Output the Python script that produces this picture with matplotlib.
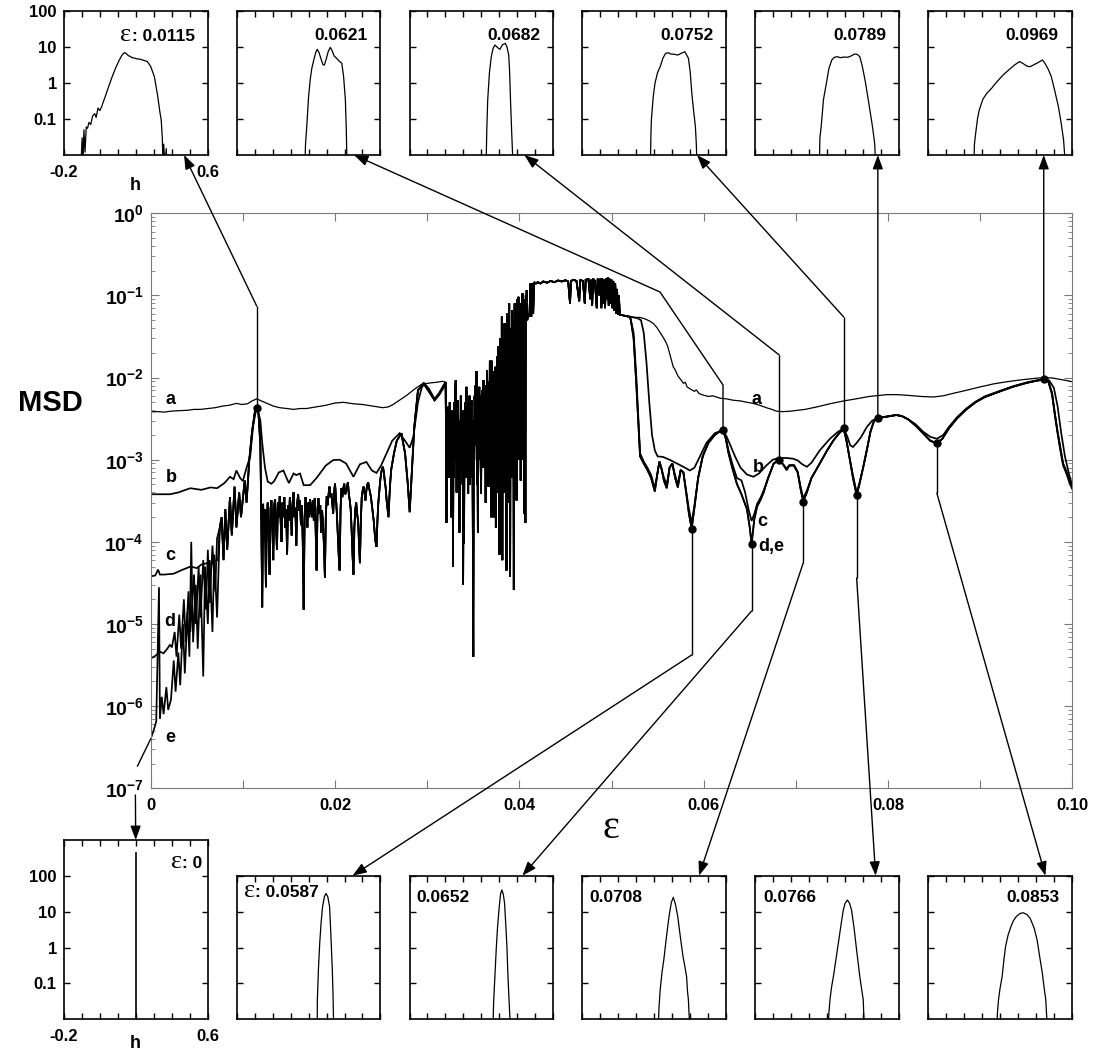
import matplotlib
matplotlib.use("Agg")
import matplotlib.pyplot as plt
import numpy as np
from matplotlib.ticker import (FixedLocator, FixedFormatter, FuncFormatter,
                               LogLocator, NullLocator, NullFormatter)
from matplotlib.offsetbox import AnchoredOffsetbox, HPacker, TextArea

plt.rcParams['font.family'] = ['Liberation Sans', 'DejaVu Sans']
plt.rcParams['font.weight'] = 'bold'
plt.rcParams['mathtext.fontset'] = 'custom'
plt.rcParams['mathtext.rm'] = 'Liberation Sans:bold'
plt.rcParams['mathtext.bf'] = 'Liberation Sans:bold'

# ---------------------------------------------------------------- MSD(eps) data
# (eps, MSD) pieces; the curves share the chaotic window in the middle
a_left = [(0.0, 0.00383), (0.0008, 0.00385), (0.0015, 0.0038), (0.0022, 0.0039), (0.0030, 0.00395),
          (0.0040, 0.004), (0.0047, 0.0041), (0.0054, 0.0041), (0.0062, 0.0042), (0.0070, 0.0043),
          (0.0078, 0.0045), (0.0085, 0.0046), (0.0093, 0.00485), (0.0099, 0.0047), (0.0105, 0.0048),
          (0.0110, 0.0052), (0.0115, 0.0055), (0.0120, 0.0052), (0.0126, 0.00485), (0.0133, 0.0045),
          (0.0140, 0.0043), (0.0148, 0.0042), (0.0155, 0.0041), (0.0162, 0.0042), (0.0169, 0.0042),
          (0.0180, 0.0044), (0.0190, 0.0046), (0.0200, 0.0049), (0.0209, 0.005), (0.0220, 0.0048),
          (0.0230, 0.0047), (0.0241, 0.0045), (0.0252, 0.0043), (0.0258, 0.0044), (0.0263, 0.0047),
          (0.0270, 0.0053), (0.0278, 0.0061), (0.0286, 0.0072), (0.0294, 0.0083), (0.0303, 0.0086),
          (0.0311, 0.0088), (0.0317, 0.009)]

b_left = [(0.0, 0.00038), (0.0021, 0.00038), (0.0030, 0.0004), (0.0043, 0.00045), (0.0055, 0.00043),
          (0.0065, 0.00046), (0.0072, 0.00045), (0.0080, 0.00052), (0.0086, 0.00062), (0.0090, 0.00058),
          (0.0093, 0.00074), (0.0097, 0.0006), (0.0100, 0.00055), (0.0104, 0.0008), (0.0108, 0.0011),
          (0.0111, 0.0025), (0.0114, 0.0039), (0.0116, 0.0041), (0.0119, 0.003), (0.0121, 0.0016),
          (0.0124, 0.0008), (0.0127, 0.00054), (0.0131, 0.00051), (0.0134, 0.00055), (0.0139, 0.0007),
          (0.0144, 0.00074), (0.0148, 0.00058), (0.0150, 0.00052), (0.0155, 0.00068), (0.0158, 0.00065),
          (0.0162, 0.00068), (0.0166, 0.00049), (0.0173, 0.00049), (0.0180, 0.0006), (0.0190, 0.00085),
          (0.0198, 0.00099), (0.0205, 0.001), (0.0212, 0.0009), (0.0220, 0.00062), (0.0227, 0.00088),
          (0.0234, 0.00094), (0.0240, 0.00074), (0.0245, 0.00069), (0.0250, 0.00085), (0.0256, 0.0012),
          (0.0262, 0.0017), (0.0270, 0.0021), (0.0276, 0.0017), (0.0281, 0.0014), (0.0285, 0.0019),
          (0.0290, 0.005), (0.0294, 0.0075), (0.0297, 0.0085), (0.0302, 0.0073), (0.0308, 0.0055),
          (0.0313, 0.0065), (0.0318, 0.0082)]

c_start = [(0.0, 3.8e-5), (0.0005, 3.9e-5), (0.0008, 4.6e-5), (0.0010, 4.0e-5), (0.0015, 4.0e-5),
           (0.0025, 4.1e-5), (0.0035, 4.6e-5), (0.0043, 5.0e-5), (0.0050, 4.8e-5), (0.0055, 5.3e-5),
           (0.0061, 5.5e-5), (0.0066, 5.4e-5), (0.0070, 5.9e-5), (0.0073, 6.0e-5)]

d_start = [(0.0, 3.8e-6), (0.0005, 4.1e-6), (0.0010, 4.6e-6), (0.0014, 4.4e-6), (0.0018, 5.0e-6),
           (0.0021, 5.6e-6), (0.0023, 5.2e-6), (0.0026, 8e-6), (0.0028, 4e-6), (0.0031, 1.3e-5),
           (0.0033, 5e-6), (0.0036, 2e-5), (0.0038, 6e-6), (0.0041, 2.5e-5), (0.0043, 8e-6),
           (0.0047, 4e-5), (0.0049, 1e-5), (0.0052, 5e-5), (0.0054, 1.2e-5), (0.0057, 6e-5),
           (0.0060, 1.5e-5), (0.0062, 8e-5), (0.0064, 1.8e-5), (0.0067, 9e-5), (0.0070, 2.5e-5),
           (0.0072, 1.1e-4)]

e_start = [(0.0, 4.0e-7), (0.0003, 5.0e-7), (0.0006, 6.5e-7), (0.0009, 2.8e-5), (0.0010, 7e-7),
           (0.0012, 1.3e-6), (0.0014, 8e-7), (0.0017, 1.7e-6), (0.0019, 9e-7), (0.0022, 1.2e-6),
           (0.0025, 3.6e-6), (0.0027, 1.5e-6), (0.0030, 4.5e-6), (0.0032, 1.8e-6), (0.0035, 1.0e-5),
           (0.0037, 2.5e-6), (0.0040, 1.4e-5), (0.0042, 4e-6), (0.0044, 1e-4), (0.0046, 6e-6),
           (0.0049, 3e-5), (0.0051, 5e-6), (0.0054, 4e-5), (0.0057, 2.3e-6), (0.0059, 5e-5),
           (0.0062, 1e-5), (0.0064, 6e-5), (0.0067, 8e-6), (0.0069, 7e-5), (0.0072, 1.2e-5)]

cde_mid = [(0.0075, 1.5e-4), (0.0077, 2.0e-4), (0.0079, 6e-5), (0.0081, 2.5e-4), (0.0083, 8e-5),
           (0.0086, 3.5e-4), (0.0088, 1.2e-4), (0.0091, 4.7e-4), (0.0093, 1.5e-4), (0.0096, 4e-4),
           (0.0098, 2e-4), (0.0102, 5.6e-4), (0.0104, 3e-4), (0.0107, 1.0e-3), (0.0110, 2.2e-3),
           (0.0113, 3.8e-3), (0.0115, 4.3e-3), (0.0117, 3.6e-3), (0.0119, 1.5e-3), (0.0120, 2e-4),
           (0.0121, 1.6e-5), (0.0122, 2.9e-4), (0.0123, 1e-4), (0.0124, 2.5e-4), (0.0125, 2.8e-5),
           (0.0126, 2e-4), (0.0127, 3e-4), (0.0128, 1.2e-4), (0.0129, 4e-5), (0.0130, 2.5e-4),
           (0.0131, 3.2e-4), (0.0132, 1.5e-4), (0.0133, 6e-5), (0.0134, 2.8e-4), (0.0135, 3.3e-4),
           (0.0136, 1.5e-4), (0.0137, 8e-5), (0.0138, 3e-4), (0.0139, 2e-4), (0.0140, 3.6e-4),
           (0.0141, 1.8e-4), (0.0142, 1e-4), (0.0143, 3e-4), (0.0144, 2e-4), (0.0145, 3.5e-4),
           (0.0146, 1.5e-4), (0.0147, 2.5e-4), (0.0148, 7e-5), (0.0149, 2.8e-4), (0.0150, 1.8e-4),
           (0.0151, 3.5e-4), (0.0152, 2.2e-4), (0.0153, 1.2e-4), (0.0154, 3e-4), (0.0155, 4e-4),
           (0.0156, 2e-4), (0.0157, 2.6e-4), (0.0158, 9e-5), (0.0159, 3e-4), (0.0160, 3.8e-4),
           (0.0161, 2.4e-4), (0.0162, 3.2e-4), (0.0163, 1.6e-4), (0.0164, 2.8e-4), (0.0165, 1e-4),
           (0.0166, 1.5e-5), (0.0167, 2e-4), (0.0168, 3.5e-4), (0.0169, 2.5e-4), (0.0170, 1.5e-4),
           (0.0171, 3e-4), (0.0172, 2e-4), (0.0173, 3.3e-4), (0.0174, 2.4e-4), (0.0175, 2e-4),
           (0.0176, 3.2e-4), (0.0177, 1.8e-4), (0.0178, 3.4e-4), (0.0179, 1.4e-4), (0.0180, 4.5e-5),
           (0.0181, 2.5e-4), (0.0182, 3.4e-4), (0.0183, 2.2e-4), (0.0184, 2.8e-4), (0.0185, 1.3e-4),
           (0.0186, 2.4e-4), (0.0187, 1.6e-4), (0.0188, 9e-5), (0.0189, 3.7e-5), (0.0190, 2e-4),
           (0.0191, 3.6e-4), (0.0192, 2.8e-4), (0.0193, 3.8e-4), (0.0194, 4.7e-4), (0.0195, 3.5e-4),
           (0.0196, 3.9e-4), (0.0197, 3e-4), (0.0198, 2.2e-4), (0.0199, 4e-4), (0.0200, 5.1e-4),
           (0.0201, 3.5e-4), (0.0202, 2.2e-4), (0.0203, 1.2e-4), (0.0204, 7e-5), (0.0205, 4.5e-5),
           (0.0206, 2.5e-4), (0.0207, 4.5e-4), (0.0208, 3.5e-4), (0.0209, 4.5e-4), (0.0210, 5.1e-4),
           (0.0211, 3.8e-4), (0.0212, 4e-4), (0.0213, 4.8e-4), (0.0214, 5.3e-4), (0.0215, 3.8e-4),
           (0.0216, 3.2e-4), (0.0217, 2.5e-4), (0.0218, 1.4e-4), (0.0219, 7e-5), (0.0220, 4e-5),
           (0.0221, 1.5e-4), (0.0222, 2.5e-4), (0.0223, 3e-4), (0.0224, 2.2e-4), (0.0225, 1.8e-4),
           (0.0226, 1e-4), (0.0227, 5.5e-5), (0.0228, 1.8e-4), (0.0229, 3.5e-4), (0.0230, 4.2e-4),
           (0.0231, 4.7e-4), (0.0232, 4e-4), (0.0233, 3.2e-4), (0.0234, 4.2e-4), (0.0235, 5e-4),
           (0.0236, 5.3e-4), (0.0237, 4.5e-4), (0.0238, 4e-4), (0.0239, 3.5e-4), (0.0240, 2.8e-4),
           (0.0241, 2.2e-4), (0.0242, 1.8e-4), (0.0243, 1.3e-4), (0.0244, 1e-4), (0.0245, 8.7e-5),
           (0.0246, 1.8e-4), (0.0247, 3e-4), (0.0248, 4e-4), (0.0249, 5.5e-4), (0.0250, 6.8e-4),
           (0.0251, 7.8e-4), (0.0252, 8.2e-4), (0.0253, 7e-4), (0.0254, 5.5e-4), (0.0255, 4.5e-4),
           (0.0256, 3.2e-4), (0.0257, 2.5e-4), (0.0258, 2e-4), (0.0259, 3.5e-4), (0.0260, 5.5e-4),
           (0.0261, 7.6e-4), (0.0264, 1.2e-3), (0.0267, 1.7e-3), (0.0272, 2.1e-3), (0.0276, 1.2e-3),
           (0.0279, 5e-4), (0.0281, 2.3e-4), (0.0283, 6e-4), (0.0286, 2.5e-3), (0.0290, 7e-3),
           (0.0296, 8.5e-3), (0.0303, 6.5e-3), (0.0308, 5.3e-3), (0.0313, 6.2e-3), (0.0319, 8.0e-3)]

chaos = [(0.03200, 8.8e-3), (0.03205, 2e-3), (0.03210, 1.7e-4), (0.03215, 3e-3), (0.03220, 8e-4),
         (0.03225, 4.4e-3), (0.03230, 1.2e-3), (0.03235, 3.5e-3), (0.03240, 6e-4), (0.03245, 5e-3),
         (0.03250, 1.5e-3), (0.03255, 3e-3), (0.03260, 2e-4), (0.03265, 2.5e-3), (0.03270, 7e-4),
         (0.03275, 4e-3), (0.03280, 5e-5), (0.03285, 2e-3), (0.03290, 6e-4), (0.03295, 5e-3),
         (0.03300, 1e-3), (0.03305, 7e-3), (0.03310, 9.3e-3), (0.03315, 2e-3), (0.03320, 4e-4),
         (0.03325, 4e-3), (0.03330, 1e-3), (0.03335, 5.3e-3), (0.03340, 8e-4), (0.03345, 3e-3),
         (0.03350, 1.3e-4), (0.03355, 2.5e-3), (0.03360, 5e-4), (0.03365, 6e-3), (0.03370, 1.5e-3),
         (0.03375, 4e-3), (0.03380, 7e-4), (0.03385, 3e-3), (0.03390, 3e-5), (0.03395, 2e-3),
         (0.03400, 9.5e-5), (0.03405, 4e-3), (0.03410, 1e-3), (0.03415, 5e-3), (0.03420, 6e-4),
         (0.03425, 7.7e-3), (0.03430, 2e-3), (0.03435, 5e-3), (0.03440, 1e-3), (0.03445, 3.9e-4),
         (0.03450, 4e-3), (0.03455, 1e-3), (0.03460, 6e-3), (0.03465, 5e-4), (0.03470, 4.5e-3),
         (0.03475, 1.5e-3), (0.03480, 5.3e-3), (0.03485, 6e-4), (0.03490, 3e-3), (0.03495, 2e-4),
         (0.03500, 4e-6), (0.03505, 3e-3), (0.03510, 1e-3), (0.03515, 6e-3), (0.03520, 3e-3),
         (0.03525, 8e-3), (0.03530, 1.5e-3), (0.03535, 1.2e-2), (0.03540, 5e-4), (0.03545, 4e-3),
         (0.03550, 1.3e-4), (0.03555, 5e-3), (0.03560, 1e-3), (0.03565, 7.7e-3), (0.03570, 2e-3),
         (0.03575, 6e-3), (0.03580, 1e-3), (0.03585, 3.9e-4), (0.03590, 5e-3), (0.03595, 2e-3),
         (0.03600, 7e-3), (0.03605, 8e-4), (0.03610, 9.3e-3), (0.03615, 1.5e-3), (0.03620, 6e-3),
         (0.03625, 8e-4), (0.03630, 4e-3), (0.03635, 3e-4), (0.03640, 8e-3), (0.03645, 6.8e-4),
         (0.03650, 1.23e-2), (0.03655, 2e-3), (0.03660, 9e-3), (0.03665, 4.7e-4), (0.03670, 7e-3),
         (0.03675, 1.5e-3), (0.03680, 1.6e-2), (0.03685, 6e-4), (0.03690, 8e-3), (0.03695, 2e-4),
         (0.03700, 1.6e-2), (0.03705, 1e-3), (0.03710, 8e-3), (0.03715, 2e-4), (0.03720, 1.2e-2),
         (0.03725, 1e-3), (0.03730, 6e-3), (0.03735, 2e-4), (0.03740, 1.35e-2), (0.03745, 1.5e-4),
         (0.03750, 1e-2), (0.03755, 2e-3), (0.03760, 1.8e-2), (0.03765, 4e-4), (0.03770, 2.4e-2),
         (0.03775, 3e-3), (0.03780, 1.5e-2), (0.03785, 7e-5), (0.03790, 3e-2), (0.03795, 1e-3),
         (0.03800, 2e-2), (0.03805, 5e-4), (0.03810, 5.5e-2), (0.03815, 6e-5), (0.03820, 3e-2),
         (0.03825, 2e-3), (0.03830, 1e-2), (0.03835, 4e-4), (0.03840, 4.6e-2), (0.03845, 5e-3),
         (0.03850, 3e-2), (0.03855, 8e-4), (0.03860, 4.5e-5), (0.03865, 3e-2), (0.03870, 6e-2),
         (0.03875, 1e-3), (0.03880, 5e-2), (0.03885, 3e-4), (0.03890, 8e-2), (0.03895, 2e-3),
         (0.03900, 3.8e-5), (0.03905, 4e-2), (0.03910, 2e-2), (0.03915, 1e-3), (0.03920, 6.6e-2),
         (0.03925, 6e-4), (0.03930, 1e-3), (0.03935, 5e-2), (0.03940, 2.6e-5), (0.03945, 4e-2),
         (0.03950, 8e-2), (0.03955, 2e-3), (0.03960, 6e-2), (0.03965, 1e-3), (0.03970, 3.2e-4),
         (0.03975, 5e-2), (0.03980, 9e-2), (0.03985, 4e-3), (0.03990, 9.6e-2), (0.03995, 1e-3),
         (0.04000, 3e-3), (0.04005, 7e-2), (0.04010, 5e-2), (0.04015, 5.6e-4), (0.04020, 8e-2),
         (0.04025, 2e-3), (0.04030, 7e-2), (0.04035, 0.106), (0.04040, 3e-3), (0.04045, 1e-3),
         (0.04050, 9e-2), (0.04055, 2.2e-4), (0.04060, 0.06), (0.04065, 1.7e-4), (0.04070, 0.1),
         (0.04075, 0.06), (0.04080, 0.116), (0.04085, 0.05), (0.0410, 0.06), (0.0411, 0.055),
         (0.0412, 0.14), (0.0413, 0.055), (0.0414, 0.14), (0.0415, 0.06), (0.0416, 0.145),
         (0.0418, 0.14), (0.0420, 0.145), (0.0423, 0.14), (0.0426, 0.148), (0.0430, 0.143),
         (0.0434, 0.15), (0.0438, 0.145), (0.0442, 0.152), (0.0446, 0.148), (0.0450, 0.153),
         (0.0453, 0.148), (0.0455, 0.08), (0.0456, 0.15), (0.0459, 0.155), (0.0462, 0.15),
         (0.0465, 0.085), (0.0466, 0.155), (0.0469, 0.15), (0.0471, 0.08), (0.0472, 0.155),
         (0.0475, 0.158), (0.0477, 0.09), (0.0478, 0.155), (0.0479, 0.075), (0.0480, 0.16),
         (0.0482, 0.15), (0.0484, 0.07), (0.0485, 0.16), (0.0487, 0.1), (0.0488, 0.16),
         (0.0489, 0.07), (0.0490, 0.16), (0.0491, 0.08), (0.0492, 0.155), (0.0493, 0.07),
         (0.0494, 0.16), (0.0495, 0.09), (0.0496, 0.165), (0.0497, 0.075), (0.0498, 0.16),
         (0.0499, 0.08), (0.0500, 0.155), (0.0501, 0.07), (0.0502, 0.15), (0.0503, 0.065),
         (0.0504, 0.14), (0.0505, 0.06), (0.0506, 0.12), (0.0507, 0.058), (0.0508, 0.1),
         (0.0509, 0.058), (0.0511, 0.058), (0.0513, 0.057), (0.0516, 0.056), (0.0520, 0.055)]

a_right = [(0.0526, 0.054), (0.0531, 0.054), (0.0536, 0.052), (0.0541, 0.049), (0.0545, 0.046),
           (0.0549, 0.041), (0.0553, 0.035), (0.0556, 0.031), (0.0559, 0.027), (0.0561, 0.024),
           (0.0564, 0.018), (0.0567, 0.0135), (0.0569, 0.0125), (0.0572, 0.0105), (0.0575, 0.0095),
           (0.0578, 0.0085), (0.0580, 0.0088), (0.0582, 0.0077), (0.0586, 0.0072), (0.0590, 0.0068),
           (0.0592, 0.0071), (0.0595, 0.0064), (0.0600, 0.0061), (0.0605, 0.0059), (0.0610, 0.006),
           (0.0618, 0.0056), (0.0625, 0.0055), (0.0632, 0.0053), (0.0640, 0.0052), (0.0647, 0.005),
           (0.0654, 0.00485), (0.0661, 0.0046), (0.0668, 0.0043), (0.0674, 0.0041), (0.0679, 0.0039),
           (0.0686, 0.00385), (0.0694, 0.0039), (0.0702, 0.004), (0.0710, 0.0041), (0.0723, 0.0044),
           (0.0737, 0.0048), (0.0752, 0.0052), (0.0765, 0.0055), (0.0780, 0.0059), (0.0799, 0.0062),
           (0.0810, 0.0062), (0.0820, 0.0061), (0.0835, 0.0059), (0.0849, 0.0058), (0.0860, 0.006),
           (0.0870, 0.0064), (0.0885, 0.007), (0.0900, 0.0077), (0.0915, 0.0084), (0.0929, 0.0089),
           (0.0945, 0.0094), (0.0960, 0.0098), (0.0969, 0.01), (0.0978, 0.0099), (0.0987, 0.0095),
           (0.0994, 0.0092), (0.1000, 0.0089)]

b_right = [(0.0528, 0.053), (0.0532, 0.05), (0.0535, 0.035), (0.0538, 0.015), (0.0541, 0.005),
           (0.0544, 0.002), (0.0547, 0.0013), (0.0550, 0.0011), (0.0556, 0.00108), (0.0563, 0.001),
           (0.0571, 0.0009), (0.0578, 0.00082), (0.0585, 0.00074), (0.0590, 0.0008), (0.0596, 0.0011),
           (0.0603, 0.0016), (0.0612, 0.0021), (0.0621, 0.0023), (0.0625, 0.0019), (0.0629, 0.0015),
           (0.0634, 0.0011), (0.0640, 0.0008), (0.0647, 0.00066), (0.0654, 0.00062), (0.0660, 0.00068),
           (0.0668, 0.00085), (0.0675, 0.001), (0.0682, 0.00105), (0.0690, 0.00105), (0.0697, 0.00103),
           (0.0702, 0.00098), (0.0707, 0.00088), (0.0712, 0.00082), (0.0717, 0.00092), (0.0726, 0.0013),
           (0.0737, 0.0018), (0.0746, 0.0022), (0.0752, 0.0024), (0.0756, 0.0019), (0.0759, 0.0015),
           (0.0762, 0.00143), (0.0766, 0.0016), (0.0771, 0.0019), (0.0777, 0.0025), (0.0783, 0.003),
           (0.0789, 0.0032), (0.0795, 0.0033), (0.0802, 0.0034), (0.0809, 0.0035), (0.0815, 0.0034),
           (0.0822, 0.0031), (0.0830, 0.0027), (0.0838, 0.0022), (0.0846, 0.0019), (0.0853, 0.0018),
           (0.0860, 0.002), (0.0866, 0.0025), (0.0875, 0.0033), (0.0885, 0.0042), (0.0895, 0.0051),
           (0.0905, 0.0059), (0.0920, 0.0068), (0.0935, 0.0078), (0.0950, 0.0087), (0.0960, 0.0092),
           (0.0969, 0.0095), (0.0975, 0.0092), (0.0980, 0.0075), (0.0984, 0.0045), (0.0988, 0.0021),
           (0.0992, 0.0011), (0.0996, 0.0007), (0.1000, 0.00048)]

de_right = [(0.0521, 0.05), (0.0524, 0.03), (0.0527, 0.008), (0.0529, 0.003), (0.0531, 0.0011),
            (0.0535, 0.0009), (0.0539, 0.00075), (0.0543, 0.0006), (0.0547, 0.00041), (0.0550, 0.0007),
            (0.0552, 0.00095), (0.0554, 0.0008), (0.0557, 0.00055), (0.0560, 0.00045), (0.0563, 0.0008),
            (0.0566, 0.0009), (0.0569, 0.0006), (0.0572, 0.00046), (0.0575, 0.00075), (0.0578, 0.0007),
            (0.0581, 0.0004), (0.0584, 0.00022), (0.0587, 0.000145), (0.0590, 0.00026), (0.0594, 0.0006),
            (0.0599, 0.0011), (0.0605, 0.0016), (0.0612, 0.002), (0.0617, 0.0022), (0.0621, 0.0023),
            (0.0624, 0.0018), (0.0627, 0.0012), (0.0631, 0.0008), (0.0636, 0.00051), (0.0641, 0.00038),
            (0.0647, 0.00025), (0.0650, 0.00015), (0.0652, 0.000095), (0.0655, 0.00019), (0.0658, 0.00027),
            (0.0662, 0.00033), (0.0665, 0.0004), (0.0670, 0.0006), (0.0676, 0.0009), (0.0682, 0.001),
            (0.0687, 0.00085), (0.0690, 0.00075), (0.0693, 0.00085), (0.0698, 0.00085), (0.0702, 0.0007),
            (0.0705, 0.00045), (0.0708, 0.00031), (0.0712, 0.0004), (0.0717, 0.0006), (0.0726, 0.0009),
            (0.0734, 0.0013), (0.0741, 0.00173), (0.0747, 0.0021), (0.0752, 0.0024), (0.0755, 0.0017),
            (0.0758, 0.0011), (0.0762, 0.0006), (0.0766, 0.00037), (0.0769, 0.0005), (0.0773, 0.0008),
            (0.0777, 0.0013), (0.0781, 0.0022), (0.0785, 0.003), (0.0789, 0.0032), (0.0795, 0.0033),
            (0.0802, 0.0034), (0.0809, 0.0035), (0.0815, 0.0034), (0.0822, 0.0031), (0.0830, 0.0026),
            (0.0838, 0.0021), (0.0846, 0.0017), (0.0853, 0.00158), (0.0859, 0.0018), (0.0866, 0.0024),
            (0.0875, 0.0032), (0.0885, 0.0041), (0.0895, 0.005), (0.0905, 0.0058), (0.0920, 0.0067),
            (0.0935, 0.0077), (0.0950, 0.0086), (0.0960, 0.0091), (0.0969, 0.0095), (0.0974, 0.009),
            (0.0978, 0.0065), (0.0981, 0.0037), (0.0984, 0.0022), (0.0987, 0.0014), (0.0990, 0.0009),
            (0.0994, 0.0007), (0.0997, 0.00055), (0.1000, 0.00045)]

c_right = [(0.0521, 0.05), (0.0524, 0.035), (0.0527, 0.01), (0.0529, 0.0035), (0.0531, 0.0012),
           (0.0535, 0.00095), (0.0539, 0.0008), (0.0543, 0.00065), (0.0547, 0.00045), (0.0550, 0.0007),
           (0.0552, 0.00095), (0.0554, 0.0008), (0.0557, 0.0006), (0.0560, 0.0005), (0.0563, 0.0008),
           (0.0566, 0.0009), (0.0569, 0.00065), (0.0572, 0.0005), (0.0575, 0.00075), (0.0578, 0.0007),
           (0.0581, 0.00042), (0.0584, 0.00025), (0.0587, 0.00017), (0.0590, 0.00028), (0.0594, 0.0006),
           (0.0599, 0.0011), (0.0605, 0.0016), (0.0612, 0.002), (0.0617, 0.0022), (0.0621, 0.0023),
           (0.0624, 0.0019), (0.0627, 0.0013), (0.0631, 0.0009), (0.0636, 0.0006), (0.0641, 0.00056),
           (0.0645, 0.0004), (0.0649, 0.00024), (0.0652, 0.00018), (0.0655, 0.00022), (0.0658, 0.00029),
           (0.0662, 0.00035), (0.0665, 0.00042), (0.0670, 0.0006), (0.0676, 0.0009), (0.0682, 0.001),
           (0.0687, 0.00086), (0.0690, 0.00078), (0.0693, 0.00086), (0.0698, 0.00086), (0.0702, 0.00072),
           (0.0705, 0.00048), (0.0708, 0.00034), (0.0712, 0.00042), (0.0717, 0.0006), (0.0726, 0.0009),
           (0.0734, 0.0013), (0.0741, 0.00173), (0.0747, 0.0021), (0.0752, 0.0024), (0.0755, 0.0017),
           (0.0758, 0.0011), (0.0762, 0.00065), (0.0766, 0.0004), (0.0769, 0.00052), (0.0773, 0.0008),
           (0.0777, 0.0013), (0.0781, 0.0022), (0.0785, 0.003), (0.0789, 0.0032), (0.0795, 0.0033),
           (0.0802, 0.0034), (0.0809, 0.0035), (0.0815, 0.0034), (0.0822, 0.0031), (0.0830, 0.0026),
           (0.0838, 0.0021), (0.0846, 0.0017), (0.0853, 0.0016), (0.0859, 0.0018), (0.0866, 0.0024),
           (0.0875, 0.0032), (0.0885, 0.0041), (0.0895, 0.005), (0.0905, 0.0058), (0.0920, 0.0067),
           (0.0935, 0.0077), (0.0950, 0.0086), (0.0960, 0.0091), (0.0969, 0.0095), (0.0974, 0.0089),
           (0.0978, 0.0062), (0.0981, 0.0035), (0.0984, 0.0021), (0.0987, 0.0013), (0.0990, 0.00085),
           (0.0994, 0.00066), (0.0997, 0.00052), (0.1000, 0.00044)]

# marked eps values and their MSD (upper row of histograms, lower row)
top_eps = [0.0115, 0.0621, 0.0682, 0.0752, 0.0789, 0.0969]
top_msd = [0.0043, 0.0023, 0.001, 0.0024, 0.0032, 0.0096]
bot_eps = [0.0587, 0.0652, 0.0708, 0.0766, 0.0853]
bot_msd = [0.000145, 0.000095, 0.00031, 0.00037, 0.00158]

# ------------------------------------------------------- histograms P(h)
pdf_top = [
    [(-0.105, 0.005), (-0.098, 0.03), (-0.094, 0.005), (-0.088, 0.05), (-0.082, 0.012), (-0.075, 0.06),
     (-0.068, 0.055), (-0.06, 0.08), (-0.05, 0.07), (-0.04, 0.12), (-0.028, 0.14), (-0.02, 0.11),
     (-0.01, 0.2), (0.0, 0.17), (0.011, 0.22), (0.02, 0.3), (0.03, 0.41), (0.05, 0.8), (0.069, 1.48),
     (0.09, 2.7), (0.109, 4.3), (0.125, 6.0), (0.138, 6.9), (0.15, 6.3), (0.16, 5.6), (0.167, 5.5),
     (0.18, 5.0), (0.196, 4.8), (0.21, 4.6), (0.226, 4.5), (0.245, 4.2), (0.265, 3.9), (0.284, 2.8),
     (0.304, 1.48), (0.323, 0.41), (0.335, 0.15), (0.342, 0.093), (0.348, 0.03), (0.352, 0.005),
     (0.356, 0.02), (0.362, 0.005), (0.37, 0.015), (0.374, 0.005)],
    [(0.180, 0.005), (0.183, 0.02), (0.19, 0.061), (0.20, 0.4), (0.209, 1.2), (0.218, 2.5), (0.229, 4.3),
     (0.24, 7.0), (0.248, 8.5), (0.258, 7.0), (0.27, 4.5), (0.28, 3.2), (0.288, 3.1), (0.298, 4.5),
     (0.31, 7.5), (0.321, 9.6), (0.33, 8.0), (0.343, 5.5), (0.356, 4.8), (0.37, 4.0), (0.385, 3.5),
     (0.395, 1.5), (0.405, 0.33), (0.41, 0.05), (0.414, 0.005)],
    [(0.226, 0.005), (0.23, 0.05), (0.235, 0.33), (0.245, 2.0), (0.255, 5.3), (0.265, 9.0), (0.275, 11.2),
     (0.29, 9.5), (0.303, 8.5), (0.318, 11.5), (0.333, 12.4), (0.342, 10.0), (0.352, 5.9), (0.357, 2.0),
     (0.362, 0.33), (0.368, 0.05), (0.376, 0.005)],
    [(0.179, 0.005), (0.181, 0.03), (0.184, 0.093), (0.194, 0.4), (0.204, 0.97), (0.218, 1.9), (0.233, 2.8),
     (0.248, 4.8), (0.263, 6.6), (0.278, 6.8), (0.292, 6.3), (0.31, 6.2), (0.331, 5.9), (0.35, 6.6),
     (0.37, 7.3), (0.38, 6.0), (0.39, 4.8), (0.40, 2.0), (0.409, 0.51), (0.42, 0.15), (0.429, 0.061),
     (0.434, 0.02), (0.438, 0.005)],
    [(0.157, 0.005), (0.16, 0.03), (0.167, 0.061), (0.18, 0.35), (0.196, 0.97), (0.21, 2.5), (0.226, 4.3),
     (0.24, 5.1), (0.255, 5.3), (0.275, 5.0), (0.295, 5.2), (0.314, 5.1), (0.335, 5.6), (0.35, 6.2),
     (0.362, 6.3), (0.372, 5.9), (0.382, 5.3), (0.395, 3.0), (0.411, 1.2), (0.425, 0.45), (0.441, 0.143),
     (0.455, 0.05), (0.465, 0.02), (0.47, 0.005)],
    [(0.055, 0.005), (0.058, 0.02), (0.065, 0.04), (0.075, 0.1), (0.085, 0.177), (0.095, 0.25),
     (0.105, 0.35), (0.114, 0.41), (0.125, 0.5), (0.14, 0.6), (0.153, 0.7), (0.17, 0.9), (0.192, 1.2),
     (0.22, 1.7), (0.25, 2.3), (0.28, 3.1), (0.309, 3.9), (0.33, 3.4), (0.35, 2.9), (0.367, 2.8),
     (0.39, 3.2), (0.41, 3.6), (0.436, 4.3), (0.45, 3.5), (0.47, 2.3), (0.486, 1.48), (0.505, 0.6),
     (0.525, 0.22), (0.54, 0.08), (0.554, 0.026), (0.56, 0.01), (0.562, 0.005)],
]

pdf_bot = [
    [(0.248, 0.005), (0.249, 0.035), (0.255, 0.25), (0.262, 1.3), (0.27, 5.0), (0.278, 13.7),
     (0.288, 26.0), (0.297, 32.0), (0.307, 26.0), (0.317, 13.7), (0.322, 4.0), (0.327, 1.05),
     (0.332, 0.25), (0.336, 0.053), (0.34, 0.005)],
    [(0.264, 0.005), (0.268, 0.03), (0.275, 0.154), (0.283, 1.0), (0.29, 3.8), (0.3, 15.0), (0.307, 32.0),
     (0.314, 40.0), (0.322, 30.0), (0.329, 17.0), (0.336, 4.0), (0.342, 1.05), (0.347, 0.2),
     (0.352, 0.053), (0.362, 0.005)],
    [(0.223, 0.005), (0.226, 0.02), (0.233, 0.066), (0.243, 0.2), (0.253, 0.45), (0.268, 2.0),
     (0.282, 7.2), (0.295, 18.0), (0.306, 25.0), (0.318, 16.0), (0.331, 7.2), (0.345, 2.0), (0.36, 0.56),
     (0.37, 0.3), (0.38, 0.154), (0.385, 0.06), (0.39, 0.035), (0.395, 0.01), (0.4, 0.005)],
    [(0.206, 0.005), (0.21, 0.015), (0.216, 0.035), (0.225, 0.08), (0.235, 0.154), (0.25, 0.5),
     (0.265, 1.6), (0.278, 4.5), (0.29, 11.0), (0.3, 17.0), (0.313, 21.0), (0.325, 17.0), (0.336, 11.0),
     (0.35, 3.5), (0.362, 1.05), (0.372, 0.4), (0.382, 0.154), (0.392, 0.07), (0.401, 0.035),
     (0.405, 0.01), (0.407, 0.005)],
    [(0.182, 0.005), (0.186, 0.015), (0.192, 0.035), (0.2, 0.07), (0.212, 0.154), (0.222, 0.45),
     (0.231, 1.05), (0.245, 2.2), (0.261, 3.8), (0.275, 5.6), (0.29, 7.2), (0.31, 8.8), (0.329, 9.3),
     (0.35, 8.3), (0.368, 6.5), (0.39, 3.5), (0.407, 1.6), (0.42, 0.6), (0.436, 0.19), (0.445, 0.08),
     (0.455, 0.035), (0.46, 0.012), (0.465, 0.005)],
]

# eps = 0: all mass at one height
pdf_zero = [(0.2, 0.005), (0.2, 430.0)]

# ------------------------------------------------------------- layout
W, H = 1096, 1050
fig = plt.figure(figsize=(W / 100, H / 100), dpi=100)


def px_axes(left, top, width, height):
    return fig.add_axes([left / W, 1 - (top + height) / H, width / W, height / H])


def xy(*parts):
    pts = [p for part in parts for p in part]
    return np.array(pts).T


GRAY = '#7a7a7a'
ax = px_axes(150.7, 213.3, 921.6, 575.0)
ax.set_xlim(0, 0.1)
ax.set_yscale('log')
ax.set_ylim(1e-7, 1)

curves = [
    (xy(a_left, chaos, a_right), 0.9),
    (xy(b_left, chaos, b_right), 1.25),
    (xy(c_start, cde_mid, chaos, c_right), 1.25),
    (xy(d_start, cde_mid, chaos, de_right), 1.25),
    (xy(e_start, cde_mid, chaos, de_right), 1.25),
]
for (ex, ey), lw in curves:
    ax.plot(ex, ey, color='black', lw=lw, solid_joinstyle='miter')

ax.plot(top_eps, top_msd, 'o', color='black', ms=5)
ax.plot(bot_eps, bot_msd, 'o', color='black', ms=5)

eps_ticks = [0.0, 0.01, 0.02, 0.03, 0.04, 0.05, 0.06, 0.07, 0.08, 0.09, 0.1]
eps_labels = ['0', '', '0.02', '', '0.04', '', '0.06', '', '0.08', '', '0.10']
ax.xaxis.set_major_locator(FixedLocator(eps_ticks))
ax.xaxis.set_major_formatter(FixedFormatter(eps_labels))
ax.yaxis.set_major_locator(LogLocator(base=10, numticks=20))
ax.yaxis.set_minor_locator(LogLocator(base=10, subs=np.arange(2, 10), numticks=20))
ax.yaxis.set_minor_formatter(NullFormatter())
ax.yaxis.set_major_formatter(FuncFormatter(lambda v, _: r'$\mathbf{10^{%d}}$' % round(np.log10(v))))
ax.tick_params(which='both', direction='in', top=True, right=True, color=GRAY)
ax.tick_params(which='major', length=5.5, width=0.8)
ax.tick_params(which='minor', length=3, width=0.6)
ax.tick_params(axis='x', labelsize=12, pad=7)
ax.tick_params(axis='y', labelsize=14, pad=5)
for s in ax.spines.values():
    s.set_color(GRAY)
    s.set_linewidth(0.8)

fig.text(50 / W, 1 - 403 / H, 'MSD', fontsize=21, fontweight='bold', ha='center', va='center')
fig.text(611 / W, 1 - 828 / H, 'ε', family='Liberation Serif', fontweight='normal',
         fontsize=29, ha='center', va='center')

for txt, x, y in [('a', 170, 400), ('b', 171.7, 478), ('c', 170, 555), ('d', 170, 622), ('e', 170, 737),
                  ('a', 757, 399), ('b', 758, 468), ('c', 762, 521), ('d,e', 771, 547)]:
    fig.text(x / W, 1 - y / H, txt, fontsize=13, fontweight='bold', ha='center', va='center')

# ------------------------------------------------------------- insets
INSET_X0, INSET_STEP, INSET_W = 63.8, 172.85, 143.8
TOP_Y, TOP_H = 10.7, 144.3
BOT_Y, BOT_H = 875.7, 143.6
ZERO_Y, ZERO_H = 840.0, 179.3

h_ticks = [-0.2, -0.1, 0.0, 0.1, 0.2, 0.3, 0.4, 0.5, 0.6]
h_labels = ['-0.2', '', '', '', '', '', '', '', '0.6']
p_ticks = [0.1, 1, 10, 100]
p_labels = ['0.1', '1', '10', '100']


def style_inset(a, ymax, labelled, h_offset):
    a.set_xlim(-0.2, 0.6)
    a.set_yscale('log')
    a.set_ylim(0.01, ymax)
    a.xaxis.set_major_locator(FixedLocator(h_ticks))
    a.yaxis.set_major_locator(FixedLocator(p_ticks))
    a.xaxis.set_minor_locator(NullLocator())
    a.yaxis.set_minor_locator(NullLocator())
    a.tick_params(direction='in', length=4, width=1.0, top=True, right=True, labelsize=12)
    a.tick_params(axis='x', pad=7)
    a.tick_params(axis='y', pad=5)
    for s in a.spines.values():
        s.set_linewidth(1.2)
    if labelled:
        a.xaxis.set_major_formatter(FixedFormatter(h_labels))
        a.yaxis.set_major_formatter(FixedFormatter(p_labels))
        a.text(0.5, h_offset, 'h', transform=a.transAxes, ha='center', va='center',
               fontsize=13, fontweight='bold')
    else:
        a.tick_params(labelbottom=False, labelleft=False)


def eps_tag(a, value, with_eps, anchor, loc):
    parts = []
    if with_eps:
        parts.append(TextArea('ε', textprops=dict(family='Liberation Serif', fontweight='normal', size=19)))
        parts.append(TextArea(': ' + value, textprops=dict(size=12.5, fontweight='bold')))
    else:
        parts.append(TextArea(value, textprops=dict(size=12.5, fontweight='bold')))
    box = HPacker(children=parts, align='baseline', pad=0, sep=0)
    a.add_artist(AnchoredOffsetbox(loc=loc, child=box, pad=0, borderpad=0, frameon=False,
                                   bbox_to_anchor=anchor, bbox_transform=a.transAxes))


top_axes = []
for i, (e, pdf) in enumerate(zip(top_eps, pdf_top)):
    a = px_axes(INSET_X0 + i * INSET_STEP, TOP_Y, INSET_W, TOP_H)
    style_inset(a, 100, i == 0, -30 / TOP_H)
    hx, hy = xy(pdf)
    a.plot(hx, hy, color='black', lw=0.9)
    eps_tag(a, f'{e:.4f}', i == 0, (1 - 13 / INSET_W, 1 - 24.3 / TOP_H), 'center right')
    top_axes.append(a)

zero_ax = px_axes(INSET_X0, ZERO_Y, INSET_W, ZERO_H)
style_inset(zero_ax, 1000, True, -24 / ZERO_H)
zx, zy = xy(pdf_zero)
zero_ax.plot(zx, zy, color='black', lw=1.2)
eps_tag(zero_ax, '0', True, (1 - 5 / INSET_W, 1 - 21.7 / ZERO_H), 'center right')

bot_axes = []
bot_tag = [(7, 15.3, 'center left'), (7, 22, 'center left'), (7.5, 22, 'center left'),
           (8, 22, 'center left'), (12, 22, 'center right')]
for i, (e, pdf) in enumerate(zip(bot_eps, pdf_bot)):
    a = px_axes(INSET_X0 + (i + 1) * INSET_STEP, BOT_Y, INSET_W, BOT_H)
    style_inset(a, 100, False, 0)
    hx, hy = xy(pdf)
    a.plot(hx, hy, color='black', lw=0.9)
    gap, dy, loc = bot_tag[i]
    ax_x = gap / INSET_W if loc == 'center left' else 1 - gap / INSET_W
    eps_tag(a, f'{e:.4f}', i == 0, (ax_x, 1 - dy / BOT_H), loc)
    bot_axes.append(a)

# ------------------------------------------------------------- connectors
ov = fig.add_axes([0, 0, 1, 1], zorder=10)
ov.set_xlim(0, W)
ov.set_ylim(H, 0)
ov.axis('off')
ov.patch.set_alpha(0)


def to_px(axes, x, y):
    return ov.transData.inverted().transform(axes.transData.transform((x, y)))


def connector(start, bends, tip):
    pts = [start, (start[0], bends[0])] + list(bends[1:]) if bends else [start]
    xs, ys = zip(*pts)
    ov.plot(xs, ys, color='black', lw=1.0, solid_capstyle='butt')
    ov.annotate('', xy=tip, xytext=pts[-1],
                arrowprops=dict(arrowstyle='-|>,head_length=0.65,head_width=0.24', mutation_scale=13,
                                color='black', lw=1.0, shrinkA=0, shrinkB=0))


# (tip position along h, bend points in figure pixels; None = straight up to the inset)
top_routes = [(0.469, [306]), (0.453, [385, (660, 292)]), (0.439, [355]),
              (0.4377, [317]), (None, []), (None, [])]
for a, e, m, (tip_h, bends) in zip(top_axes, top_eps, top_msd, top_routes):
    start = to_px(ax, e, m)
    if tip_h is None:
        tip = (start[0], to_px(a, 0.0, 0.01)[1])
    else:
        tip = to_px(a, tip_h, 0.01)
    connector(start, bends, tip)

bot_routes = [(0.4445, [655]), (0.428, [611]), (0.449, [563]), (0.47, [578]), (0.453, [493])]
for a, e, m, (tip_h, bends) in zip(bot_axes, bot_eps, bot_msd, bot_routes):
    start = to_px(ax, e, m)
    connector(start, bends, to_px(a, tip_h, 100))

e0 = to_px(ax, e_start[0][0], e_start[0][1])
ov.plot([e0[0], 137.5], [e0[1], 766], color='black', lw=1.0)
connector((135.4, 795), [], to_px(zero_ax, pdf_zero[0][0], 1000))

fig.savefig('out.png', dpi=100)
